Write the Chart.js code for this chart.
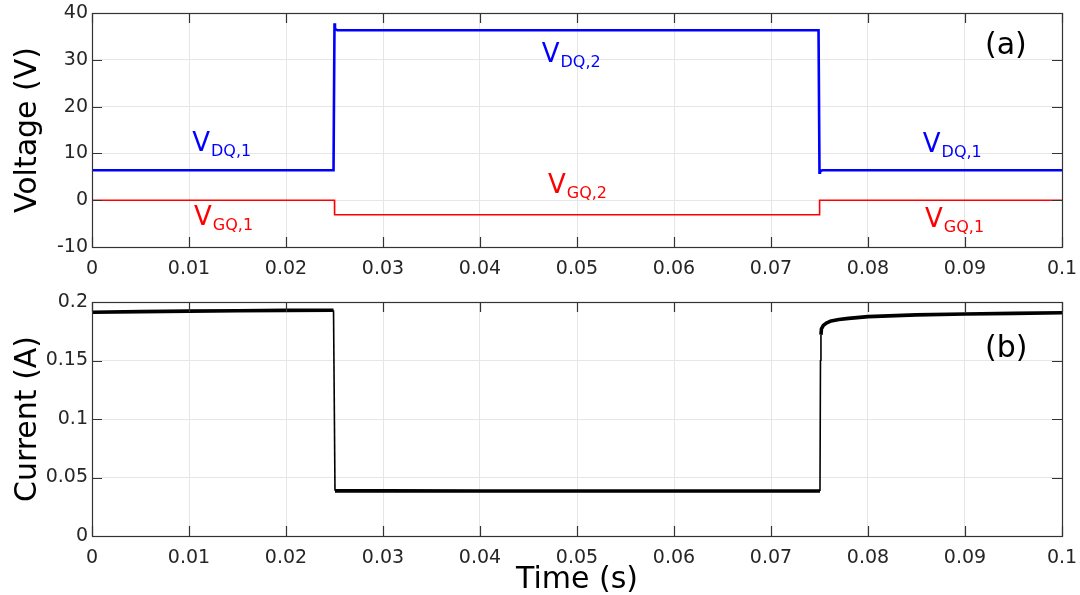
<!DOCTYPE html>
<html>
<head>
<meta charset="utf-8">
<script src="https://cdn.jsdelivr.net/npm/chart.js@4.4.1/dist/chart.umd.min.js"></script>
<style>
  html, body { margin: 0; padding: 0; background: #ffffff; }
  #wrap { position: relative; width: 1080px; height: 595px; overflow: hidden; }
  canvas { position: absolute; left: 0; }
  #cv { top: 0; }
  #ci { top: 290px; }
</style>
</head>
<body>
<div id="wrap">
  <canvas id="cv" width="1080" height="290"></canvas>
  <canvas id="ci" width="1080" height="305"></canvas>
</div>
<script>
// Drain voltage V_DQ (V) versus time (s)
const tDrain = [0, 0.0249, 0.02500, 0.02505, 0.0253, 0.0749, 0.07500, 0.07505, 0.0753, 0.1];
const vDrain = [6.4, 6.4, 37.8, 36.6, 36.3, 36.3, 5.9, 6.2, 6.4, 6.4];

// Gate voltage V_GQ (V) versus time (s)
const tGate = [0, 0.02500, 0.02501, 0.07500, 0.07501, 0.1];
const vGate = [0, 0, -3.1, -3.1, 0, 0];

// Drain current (A) versus time (s)
const tCurrent = [0, 0.005, 0.01, 0.015, 0.02, 0.0249, 0.02505, 0.03, 0.04, 0.05, 0.06, 0.07, 0.0749,
                  0.07505, 0.07510, 0.07515, 0.0752, 0.0754, 0.0757, 0.0762, 0.077, 0.078, 0.08, 0.085, 0.09, 0.095, 0.1];
const iCurrent = [0.1912, 0.1918, 0.1922, 0.1925, 0.1928, 0.1930, 0.0386, 0.0386, 0.0384, 0.0385, 0.0384, 0.0385, 0.0385,
                  0.0385, 0.150, 0.172, 0.177, 0.1800, 0.1820, 0.1838, 0.1850, 0.1860, 0.1875, 0.1890, 0.1898, 0.1903, 0.1908];

// Axis ticks
const timeTicks = [0, 0.01, 0.02, 0.03, 0.04, 0.05, 0.06, 0.07, 0.08, 0.09, 0.1];
const voltTicks = [-10, 0, 10, 20, 30, 40];
const currTicks = [0, 0.05, 0.1, 0.15, 0.2];

// Trace annotations: anchor (time, value) at the left end of the main glyph's baseline
const voltNotes = [
  { t: 0.01033, v: 10.6, main: 'V', sub: 'DQ,1', color: '#0000ff' },
  { t: 0.04636, v: 29.5, main: 'V', sub: 'DQ,2', color: '#0000ff' },
  { t: 0.08565, v: 10.4, main: 'V', sub: 'DQ,1', color: '#0000ff' },
  { t: 0.01052, v: -5.3, main: 'V', sub: 'GQ,1', color: '#ff0000' },
  { t: 0.04701, v: 1.6, main: 'V', sub: 'GQ,2', color: '#ff0000' },
  { t: 0.08588, v: -5.7, main: 'V', sub: 'GQ,1', color: '#ff0000' }
];

const FONT = "'DejaVu Sans', Verdana, sans-serif";
const TEXT = '#262626';

function pts(xs, ys) { return xs.map((x, i) => ({ x: x, y: ys[i] })); }
function fmt(v) { return String(parseFloat(Number(v).toFixed(4))); }

// Box frame with inward tick marks on all four sides
const framePlugin = {
  id: 'frame',
  afterDatasetsDraw(chart, args, opts) {
    const { ctx, chartArea: a, scales } = chart;
    ctx.save();
    ctx.strokeStyle = '#333333';
    ctx.lineWidth = 1.2;
    ctx.beginPath();
    const L = 10;
    opts.xTicks.forEach(t => {
      const x = Math.round(scales.x.getPixelForValue(t)) + 0.5;
      ctx.moveTo(x, a.bottom); ctx.lineTo(x, a.bottom - L);
      ctx.moveTo(x, a.top); ctx.lineTo(x, a.top + L);
    });
    opts.yTicks.forEach(t => {
      const y = Math.round(scales.y.getPixelForValue(t)) + 0.5;
      ctx.moveTo(a.left, y); ctx.lineTo(a.left + L, y);
      ctx.moveTo(a.right, y); ctx.lineTo(a.right - L, y);
    });
    ctx.stroke();
    ctx.strokeRect(Math.round(a.left) + 0.5, Math.round(a.top) + 0.5,
                   Math.round(a.right - a.left), Math.round(a.bottom - a.top));
    // panel tag
    ctx.fillStyle = '#000000';
    ctx.font = '30px ' + FONT;
    ctx.textAlign = 'left';
    ctx.textBaseline = 'alphabetic';
    ctx.fillText(opts.tag, a.right - 77, a.top + opts.tagDy);
    ctx.restore();
  }
};

// Subscripted trace labels placed in data coordinates
const notesPlugin = {
  id: 'notes',
  afterDatasetsDraw(chart, args, opts) {
    if (!opts.items) return;
    const { ctx, scales } = chart;
    ctx.save();
    ctx.textAlign = 'left';
    ctx.textBaseline = 'alphabetic';
    opts.items.forEach(n => {
      const x = scales.x.getPixelForValue(n.t);
      const y = scales.y.getPixelForValue(n.v);
      ctx.fillStyle = n.color;
      ctx.font = '26px ' + FONT;
      ctx.fillText(n.main, x, y);
      const w = ctx.measureText(n.main).width;
      ctx.font = '16px ' + FONT;
      ctx.fillText(n.sub, x + w + 1, y + 5);
    });
    ctx.restore();
  }
};

function xScale(height, withTitle) {
  return {
    type: 'linear', min: 0, max: 0.1,
    afterBuildTicks: s => { s.ticks = timeTicks.map(v => ({ value: v })); },
    afterFit: s => { s.height = height; s.paddingLeft = 0; s.paddingRight = 0; },
    grid: { color: '#e6e6e6', lineWidth: 1, drawTicks: false },
    border: { display: false },
    ticks: { color: TEXT, font: { family: FONT, size: 19 }, padding: 11, maxRotation: 0, autoSkip: false,
             callback: v => fmt(v) },
    title: withTitle ? { display: true, text: 'Time (s)', color: '#000000',
                         font: { family: FONT, size: 30, lineHeight: 1 }, padding: { top: 0, bottom: 0 } }
                     : { display: false }
  };
}

function yScale(min, max, ticks, label) {
  return {
    type: 'linear', min: min, max: max,
    afterBuildTicks: s => { s.ticks = ticks.map(v => ({ value: v })); },
    afterFit: s => { s.width = 92; s.paddingTop = 0; s.paddingBottom = 0; },
    grid: { color: '#e6e6e6', lineWidth: 1, drawTicks: false },
    border: { display: false },
    ticks: { color: TEXT, font: { family: FONT, size: 19 }, padding: 4, autoSkip: false,
             callback: v => fmt(v) },
    title: { display: true, text: label, color: '#000000',
             font: { family: FONT, size: 30 }, padding: { top: 10, bottom: 0 } }
  };
}

const common = {
  responsive: false,
  animation: false,
  devicePixelRatio: 1,
  parsing: false,
  normalized: true,
  plugins: { legend: { display: false }, tooltip: { enabled: false } },
  elements: { point: { radius: 0 }, line: { tension: 0 } }
};

new Chart(document.getElementById('cv'), {
  type: 'line',
  data: {
    datasets: [
      { label: 'V_GQ', data: pts(tGate, vGate), borderColor: '#ff0000', borderWidth: 1.6, fill: false },
      { label: 'V_DQ', data: pts(tDrain, vDrain), borderColor: '#0000ff', borderWidth: 2.6, fill: false }
    ]
  },
  options: Object.assign({}, common, {
    layout: { padding: { top: 13, right: 18, left: 0, bottom: 0 } },
    scales: { x: xScale(43, false), y: yScale(-10, 40, voltTicks, 'Voltage (V)') },
    plugins: Object.assign({}, common.plugins, {
      frame: { xTicks: timeTicks, yTicks: voltTicks, tag: '(a)', tagDy: 41 },
      notes: { items: voltNotes }
    })
  }),
  plugins: [framePlugin, notesPlugin]
});

new Chart(document.getElementById('ci'), {
  type: 'line',
  data: {
    datasets: [
      { label: 'Current', data: pts(tCurrent, iCurrent), borderColor: '#000000', borderWidth: 3.6, fill: false,
        borderJoinStyle: 'round',
        segment: { borderWidth: c => Math.abs(c.p1.parsed.x - c.p0.parsed.x) < 0.0003 &&
                                     Math.abs(c.p1.parsed.y - c.p0.parsed.y) > 0.02 ? 1.6 : 3.6 } }
    ]
  },
  options: Object.assign({}, common, {
    layout: { padding: { top: 12, right: 18, left: 0, bottom: 0 } },
    scales: { x: xScale(59, true), y: yScale(0, 0.2, currTicks, 'Current (A)') },
    plugins: Object.assign({}, common.plugins, {
      frame: { xTicks: timeTicks, yTicks: currTicks, tag: '(b)', tagDy: 55 },
      notes: {}
    })
  }),
  plugins: [framePlugin, notesPlugin]
});
</script>
</body>
</html>
